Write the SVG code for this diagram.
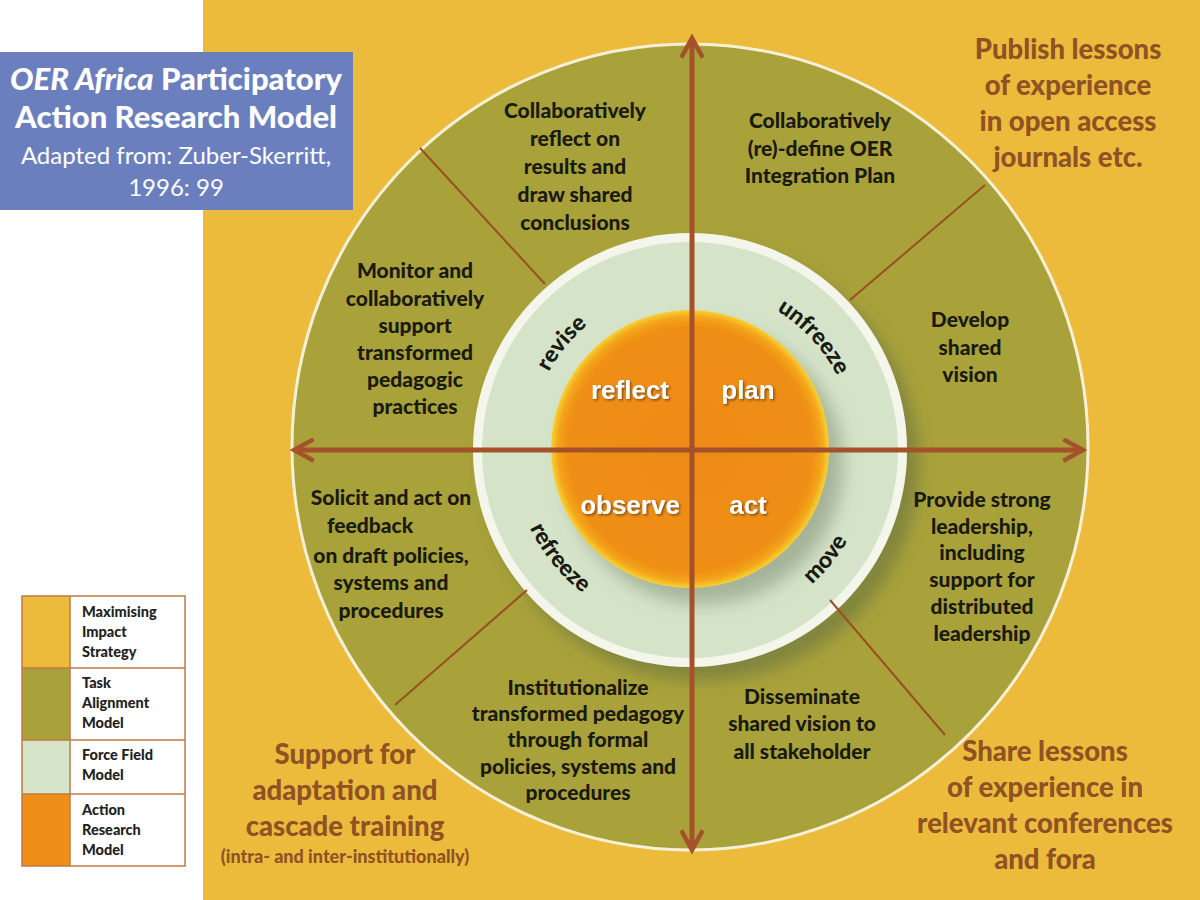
<svg xmlns="http://www.w3.org/2000/svg" width="1200" height="900" viewBox="0 0 1200 900">
<style>
.t{font-family:Lato,"Open Sans","Liberation Sans",sans-serif;font-weight:900;font-size:21px;fill:#1a1a10;text-anchor:middle}
.o{font-family:Lato,"Open Sans","Liberation Sans",sans-serif;font-weight:900;font-size:27.5px;fill:#8e5224;text-anchor:middle}
.o2{font-family:Lato,"Open Sans","Liberation Sans",sans-serif;font-weight:900;font-size:18px;fill:#8e5224;text-anchor:middle}
.c{font-family:Lato,"Open Sans","Liberation Sans",sans-serif;font-weight:900;font-size:23px;fill:#1a1a10}
.i{font-family:"Liberation Sans",Arial,sans-serif;font-weight:bold;font-size:26px;fill:#ffffff;text-anchor:middle;filter:url(#ts)}
.lg{font-family:Lato,"Open Sans","Liberation Sans",sans-serif;font-weight:900;font-size:14.5px;fill:#222}
.ti{font-family:Lato,"Open Sans","Liberation Sans",sans-serif;fill:#ffffff;text-anchor:middle}
.sp{stroke:#9a4f22;stroke-width:2}
.ax{stroke:#a5522a;stroke-width:5;fill:none}
</style>
<defs>
<radialGradient id="og" cx="0.5" cy="0.5" r="0.5">
<stop offset="0" stop-color="#ee8a12"/>
<stop offset="0.88" stop-color="#ef8f14"/>
<stop offset="0.95" stop-color="#f3a51c"/>
<stop offset="1" stop-color="#f8d230"/>
</radialGradient>
<filter id="sh" x="-20%" y="-20%" width="150%" height="150%">
<feDropShadow dx="12" dy="14" stdDeviation="8" flood-color="#556040" flood-opacity="0.45"/>
</filter>
<filter id="sh2" x="-20%" y="-20%" width="150%" height="150%">
<feDropShadow dx="14" dy="16" stdDeviation="9" flood-color="#7d8a70" flood-opacity="0.55"/>
</filter>
<filter id="ts" x="-10%" y="-20%" width="130%" height="150%">
<feDropShadow dx="1.5" dy="1.5" stdDeviation="0.8" flood-color="#6b3a08" flood-opacity="0.8"/>
</filter>
<marker id="ah" viewBox="0 0 14 14" refX="12" refY="7" markerWidth="5" markerHeight="5" orient="auto-start-reverse" markerUnits="strokeWidth">
<path d="M1,1 L12,7 L1,13" fill="none" stroke="#a5522a" stroke-width="2.5"/>
</marker>
<path id="topArc" d="M529,450 A163,163 0 1 1 855,450 A163,163 0 1 1 529,450"/>
<path id="botArc" d="M512,450 A180,180 0 0 0 872,450"/>
</defs>

<rect x="0" y="0" width="1200" height="900" fill="#ffffff"/>
<rect x="203" y="0" width="997" height="900" fill="#edbb3c"/>

<g id="title">
<rect x="0" y="52" width="353" height="158" fill="#6b7fbf"/>
<text class="ti" x="176" y="90" font-size="31" font-weight="900"><tspan font-style="italic">OER Africa</tspan> Participatory</text>
<text class="ti" x="176" y="128" font-size="31" font-weight="900">Action Research Model</text>
<text class="ti" x="176" y="164" font-size="24">Adapted from: Zuber-Skerritt,</text>
<text class="ti" x="176" y="196" font-size="24">1996: 99</text>
</g>

<g id="outer-ring">
<ellipse cx="690" cy="447" rx="398" ry="403" fill="#a9a23a" stroke="#f6f0d8" stroke-width="3"/>
</g>

<g id="force-field">
<circle cx="690" cy="450" r="217" fill="#f4f6ec" filter="url(#sh)"/>
<circle cx="690" cy="450" r="208" fill="#d5e4c8"/>
</g>

<g id="action-research">
<circle cx="690" cy="449" r="139" fill="url(#og)" filter="url(#sh2)"/>
</g>

<g id="connectors">
<line class="sp" x1="420" y1="148" x2="545" y2="284"/>
<line class="sp" x1="985" y1="185" x2="850" y2="300"/>
<line class="sp" x1="395" y1="705" x2="527" y2="590"/>
<line class="sp" x1="945" y1="735" x2="830" y2="600"/>
<line class="ax" x1="692" y1="850" x2="692" y2="38" marker-end="url(#ah)" marker-start="url(#ah)"/>
<line class="ax" x1="294" y1="450" x2="1083" y2="450" marker-end="url(#ah)" marker-start="url(#ah)"/>
</g>

<g id="inner-labels">
<text class="i" x="630" y="399">reflect</text>
<text class="i" x="748" y="399">plan</text>
<text class="i" x="630" y="514">observe</text>
<text class="i" x="748" y="514">act</text>
</g>

<g id="force-labels">
<text class="c" text-anchor="middle"><textPath href="#topArc" startOffset="112">revise</textPath></text>
<text class="c" text-anchor="middle"><textPath href="#topArc" startOffset="390">unfreeze</textPath></text>
<text class="c" text-anchor="middle"><textPath href="#botArc" startOffset="123">refreeze</textPath></text>
<text class="c" text-anchor="middle"><textPath href="#botArc" startOffset="442">move</textPath></text>
</g>

<g id="task-tl">
<text class="t" x="575" y="118">Collaboratively</text>
<text class="t" x="575" y="146">reflect on</text>
<text class="t" x="575" y="174">results and</text>
<text class="t" x="575" y="202">draw shared</text>
<text class="t" x="575" y="230">conclusions</text>
</g>
<g id="task-tr">
<text class="t" x="820" y="128">Collaboratively</text>
<text class="t" x="820" y="156">(re)-define OER</text>
<text class="t" x="820" y="183">Integration Plan</text>
</g>
<g id="task-r">
<text class="t" x="970" y="327">Develop</text>
<text class="t" x="970" y="355">shared</text>
<text class="t" x="970" y="382">vision</text>
</g>
<g id="task-rl">
<text class="t" x="982" y="507">Provide strong</text>
<text class="t" x="982" y="534">leadership,</text>
<text class="t" x="982" y="560">including</text>
<text class="t" x="982" y="587">support for</text>
<text class="t" x="982" y="614">distributed</text>
<text class="t" x="982" y="641">leadership</text>
</g>
<g id="task-br">
<text class="t" x="802" y="704">Disseminate</text>
<text class="t" x="802" y="731">shared vision to</text>
<text class="t" x="802" y="759">all stakeholder</text>
</g>
<g id="task-bl">
<text class="t" x="578" y="695">Institutionalize</text>
<text class="t" x="578" y="721">transformed pedagogy</text>
<text class="t" x="578" y="747">through formal</text>
<text class="t" x="578" y="774">policies, systems and</text>
<text class="t" x="578" y="800">procedures</text>
</g>
<g id="task-ll">
<text class="t" x="391" y="505">Solicit and act on</text>
<text class="t" x="370" y="533">feedback</text>
<text class="t" x="391" y="563">on draft policies,</text>
<text class="t" x="391" y="590">systems and</text>
<text class="t" x="391" y="618">procedures</text>
</g>
<g id="task-lu">
<text class="t" x="415" y="278">Monitor and</text>
<text class="t" x="415" y="306">collaboratively</text>
<text class="t" x="415" y="333">support</text>
<text class="t" x="415" y="360">transformed</text>
<text class="t" x="415" y="387">pedagogic</text>
<text class="t" x="415" y="414">practices</text>
</g>

<g id="impact-tr">
<text class="o" x="1068" y="59">Publish lessons</text>
<text class="o" x="1068" y="95">of experience</text>
<text class="o" x="1068" y="131">in open access</text>
<text class="o" x="1068" y="167">journals etc.</text>
</g>
<g id="impact-bl">
<text class="o" x="345" y="764">Support for</text>
<text class="o" x="345" y="800">adaptation and</text>
<text class="o" x="345" y="836">cascade training</text>
<text class="o2" x="345" y="863">(intra- and inter-institutionally)</text>
</g>
<g id="impact-br">
<text class="o" x="1045" y="761">Share lessons</text>
<text class="o" x="1045" y="797">of experience in</text>
<text class="o" x="1045" y="833">relevant conferences</text>
<text class="o" x="1045" y="869">and fora</text>
</g>

<g id="legend">
<rect x="22" y="596" width="48" height="72" fill="#edbb3c"/>
<rect x="22" y="668" width="48" height="72" fill="#a9a23a"/>
<rect x="22" y="740" width="48" height="54" fill="#d5e4c8"/>
<rect x="22" y="794" width="48" height="72" fill="#ef8f18"/>
<g fill="none" stroke="#c07a44" stroke-width="1.5">
<rect x="22" y="596" width="163" height="270"/>
<line x1="70" y1="596" x2="70" y2="866"/>
<line x1="22" y1="668" x2="185" y2="668"/>
<line x1="22" y1="740" x2="185" y2="740"/>
<line x1="22" y1="794" x2="185" y2="794"/>
</g>
<text class="lg" x="82" y="617">Maximising</text>
<text class="lg" x="82" y="637">Impact</text>
<text class="lg" x="82" y="657">Strategy</text>
<text class="lg" x="82" y="688">Task</text>
<text class="lg" x="82" y="708">Alignment</text>
<text class="lg" x="82" y="728">Model</text>
<text class="lg" x="82" y="760">Force Field</text>
<text class="lg" x="82" y="780">Model</text>
<text class="lg" x="82" y="815">Action</text>
<text class="lg" x="82" y="835">Research</text>
<text class="lg" x="82" y="855">Model</text>
</g>
</svg>
